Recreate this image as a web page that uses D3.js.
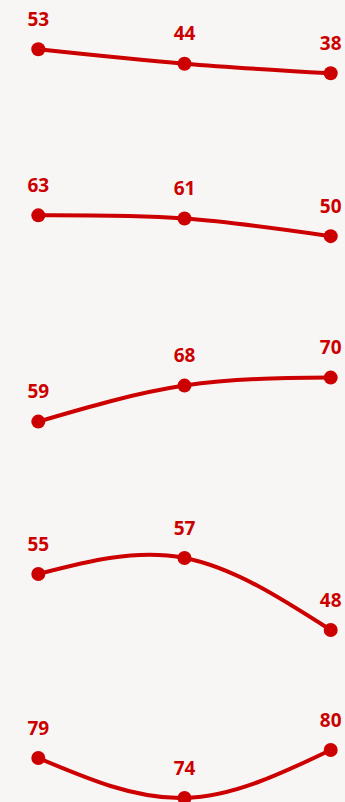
<!DOCTYPE html>
<html>
<head>
<meta charset="utf-8">
<script src="https://cdn.jsdelivr.net/npm/d3@7"></script>
<style>
  html, body { margin: 0; padding: 0; background: #f7f6f4; }
  svg { display: block; }
</style>
</head>
<body>
<div id="chart"></div>
<script>
// ---- data ----
const periods = ["t1", "t2", "t3"];
const series1 = [53, 44, 38];
const series2 = [63, 61, 50];
const series3 = [59, 68, 70];
const series4 = [55, 57, 48];
const series5 = [79, 74, 80];
const seriesList = [series1, series2, series3, series4, series5];
// per-panel value domains [low, high]
const domainLow  = [-16.2, -2.4, 44.4, 46.75, 73.75];
const domainHigh = [83.8, 97.6, 84.4, 66.75, 93.75];

// ---- layout ----
const W = 345, H = 802;
const panelH = 160;
const red = "#cc0000";

const svg = d3.select("#chart").append("svg")
  .attr("width", W).attr("height", H)
  .style("background", "#f7f6f4");

const x = d3.scalePoint().domain(periods).range([38.3, 330.7]);

const line = d3.line()
  .x((d, i) => x(periods[i]))
  .curve(d3.curveNatural);

seriesList.forEach((vals, p) => {
  const top = p * panelH;
  const y = d3.scaleLinear()
    .domain([domainLow[p], domainHigh[p]])
    .range([top + panelH, top]);
  const g = svg.append("g");
  g.append("path")
    .datum(vals)
    .attr("d", line.y(d => y(d)))
    .attr("fill", "none")
    .attr("stroke", red)
    .attr("stroke-width", 4)
    .attr("stroke-linecap", "round");
  g.selectAll("circle").data(vals).join("circle")
    .attr("cx", (d, i) => x(periods[i]))
    .attr("cy", d => y(d))
    .attr("r", 7)
    .attr("fill", red);
  g.selectAll("text").data(vals).join("text")
    .attr("x", (d, i) => x(periods[i]))
    .attr("y", d => y(d) - 23.5)
    .attr("text-anchor", "middle")
    .attr("font-family", "'Open Sans', sans-serif")
    .attr("font-weight", 700)
    .attr("font-size", 19)
    .attr("fill", red)
    .text(d => d);
});
</script>
</body>
</html>
